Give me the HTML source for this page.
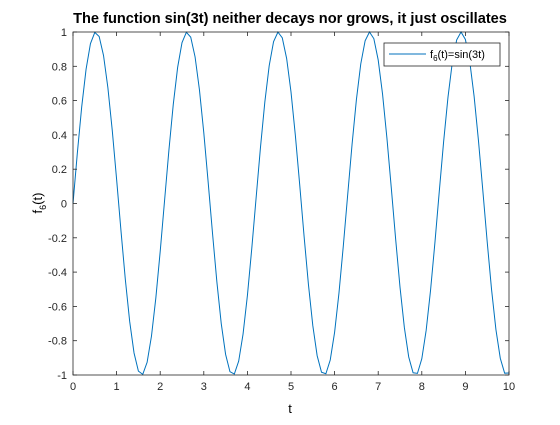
<!DOCTYPE html>
<html><head><meta charset="utf-8"><style>
body{margin:0;background:#fff;width:560px;height:420px;overflow:hidden}
svg{font-family:"Liberation Sans",sans-serif}
</style></head><body>
<svg id="chart" width="560" height="420">
<rect x="0" y="0" width="560" height="420" fill="#fff"/>
<text x="290" y="23" font-size="14.6" font-weight="bold" text-anchor="middle">The function sin(3t) neither decays nor grows, it just oscillates</text>
<g id="axes"></g>
<text x="290" y="413" font-size="13" text-anchor="middle">t</text>
<text transform="translate(42,203) rotate(-90)" font-size="13" text-anchor="middle">f<tspan font-size="9" dy="4">6</tspan><tspan dy="-4">(t)</tspan></text>
<g>
<rect x="384" y="43" width="116" height="23" fill="#fff" stroke="#262626" stroke-width="0.8"/>
<line x1="389" y1="54" x2="426" y2="54" stroke="#0072bd" stroke-width="1"/>
<text x="430" y="58" font-size="11" fill="#000">f<tspan font-size="8" dy="3">6</tspan><tspan dy="-3">(t)=sin(3t)</tspan></text>
</g>
</svg>
<script>
const tValues=[];for(let k=0;k<=100;k++)tValues.push(k/10);
const fValues=[0,0.2955,0.5646,0.7833,0.9320,0.9975,0.9738,0.8632,0.6755,0.4274,0.1411,-0.1577,-0.4425,-0.6878,-0.8716,-0.9775,-0.9962,-0.9258,-0.7728,-0.5507,-0.2794,0.0168,0.3115,0.5784,0.7937,0.9380,0.9985,0.9699,0.8546,0.6630,0.4121,0.1245,-0.1743,-0.4575,-0.6999,-0.8797,-0.9809,-0.9946,-0.9193,-0.7620,-0.5366,-0.2632,0.0336,0.3275,0.5921,0.8038,0.9437,0.9993,0.9657,0.8457,0.6503,0.3967,0.1080,-0.1909,-0.4724,-0.7118,-0.8876,-0.9841,-0.9927,-0.9126,-0.7510,-0.5223,-0.2470,0.0504,0.3433,0.6055,0.8137,0.9491,0.9999,0.9612,0.8367,0.6374,0.3813,0.0914,-0.2073,-0.4872,-0.7235,-0.8950,-0.9870,-0.9905,-0.9056,-0.7395,-0.5077,-0.2306,0.0672,0.3591,0.6185,0.8234,0.9541,0.9998,0.9564,0.8273,0.6243,0.3656,0.0747,-0.2237,-0.5018,-0.7350,-0.9021,-0.9894,-0.9880];
const xTicks=[0,1,2,3,4,5,6,7,8,9,10];
const yTicks=[-1,-0.8,-0.6,-0.4,-0.2,0,0.2,0.4,0.6,0.8,1];
const L=73,R=509,T=32,B=375,NS='http://www.w3.org/2000/svg';
const xs=v=>L+(v-0)/(10-0)*(R-L);
const ys=v=>B-(v+1)/2*(B-T);
const g=document.getElementById('axes');
function mk(tag,a){const e=document.createElementNS(NS,tag);for(const k in a)e.setAttribute(k,a[k]);g.appendChild(e);return e;}
const pts=tValues.map((t,i)=>xs(t).toFixed(2)+','+ys(fValues[i]).toFixed(2)).join(' ');
const line=mk('polyline',{points:pts,fill:'none',stroke:'#0072bd','stroke-width':1});


const box=mk('rect',{x:L,y:T,width:R-L,height:B-T,fill:'none',stroke:'#262626','stroke-width':0.8});


xTicks.forEach(v=>{const x=xs(v);
mk('line',{x1:x,y1:B,x2:x,y2:B-4,stroke:'#262626','stroke-width':0.8});
mk('line',{x1:x,y1:T,x2:x,y2:T+4,stroke:'#262626','stroke-width':0.8});
const t=mk('text',{x:x,y:B+15,'font-size':11,'text-anchor':'middle',fill:'#262626'});t.textContent=v;

});
yTicks.forEach(v=>{const y=ys(v);
mk('line',{x1:L,y1:y,x2:L+4,y2:y,stroke:'#262626','stroke-width':0.8});
mk('line',{x1:R,y1:y,x2:R-4,y2:y,stroke:'#262626','stroke-width':0.8});
const t=mk('text',{x:L-6,y:y+4,'font-size':11,'text-anchor':'end',fill:'#262626'});t.textContent=v;

});
</script>
</body></html>
